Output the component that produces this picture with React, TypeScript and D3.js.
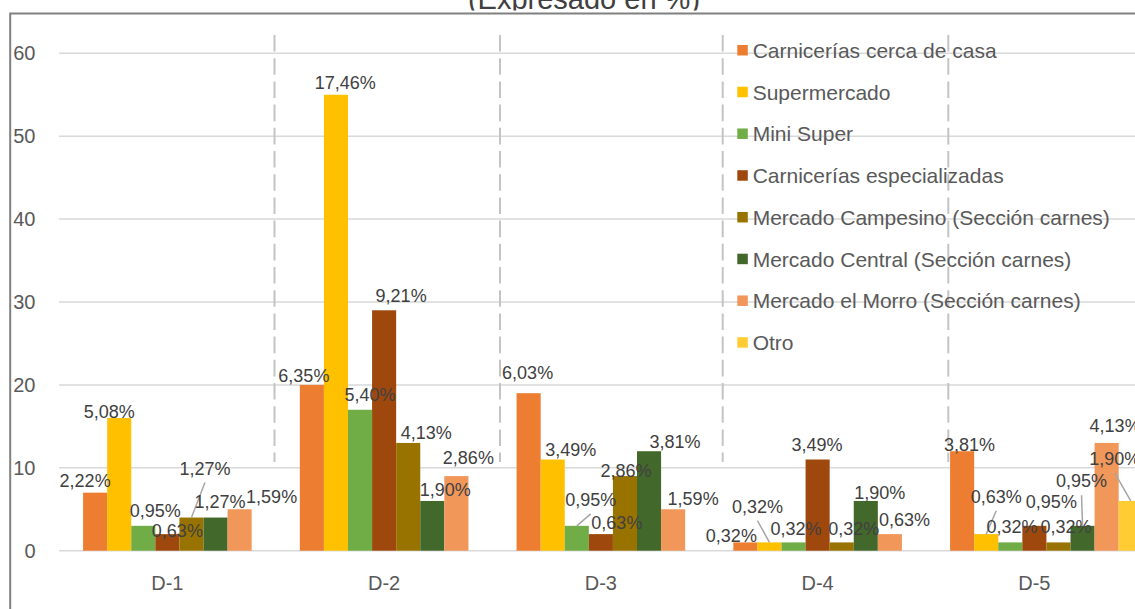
import React from "react";
import * as d3 from "d3";

// Districts and purchase places
const categories = ["D-1", "D-2", "D-3", "D-4", "D-5"];
const seriesNames = [
  "Carnicerías cerca de casa",
  "Supermercado",
  "Mini Super",
  "Carnicerías especializadas",
  "Mercado Campesino (Sección carnes)",
  "Mercado Central (Sección carnes)",
  "Mercado el Morro (Sección carnes)",
  "Otro",
];

// Respondent counts per district (bar heights); labels show share of the total
const carniceriasCerca = [7, 20, 19, 1, 12];
const supermercado = [16, 55, 11, 1, 2];
const miniSuper = [3, 17, 3, 1, 1];
const carniceriasEspecializadas = [2, 29, 2, 11, 3];
const mercadoCampesino = [4, 13, 9, 1, 1];
const mercadoCentral = [4, 6, 12, 6, 3];
const mercadoMorro = [5, 9, 5, 2, 13];
const otro: (number | null)[] = [null, null, null, null, 6];
const totalRespondents = 315;

const yTicks = [0, 10, 20, 30, 40, 50, 60];
const titleText = "(Expresado en %)";

const seriesValues: (number | null)[][] = [
  carniceriasCerca,
  supermercado,
  miniSuper,
  carniceriasEspecializadas,
  mercadoCampesino,
  mercadoCentral,
  mercadoMorro,
  otro,
];

const seriesColors = [
  "#ED7D31",
  "#FFC000",
  "#70AD47",
  "#9E480E",
  "#997300",
  "#43682B",
  "#F1975A",
  "#FFCD33",
];

// Hand-placed data label offsets [dx, dy, leader] relative to the bar's top centre
type Nudge = [number, number, number?] | null;
const labelNudges: Nudge[][] = [
  [[-10, -6], [-8, -2.6], [-1, -14], [-14, -0.7], [7.4, -0.5]],
  [[-10, 0], [9.3, -5.4], [18, -3.5], [-12, -29.7, 1], [10, -31.4, 1]],
  [[12, -9], [10, -9], [14, -20, 1], [2.5, -7.4], [1.7, -9]],
  [[10, 2.6], [17, -8.6], [16, -5], [-0.6, -8.8], [17, -18]],
  [[13.5, -43, 1], [18, -4], [1, 0.6], [12, -7.4], [7.5, -9]],
  [[4.5, -10], [13, -5.3], [26, -3], [14, -2], [-1, -38.5, 1]],
  [[32, -6.5], [12, -12], [20, -4], [14.6, -8.4], [8.5, -11]],
  [null, null, null, null, [-16, -36, 1]],
];

// Decorative dashed separators between districts
const separatorX = [274.5, 500, 722.7, 948.3];

const W = 1135;
const H = 609;
const FONT = "'Liberation Sans', Arial, Helvetica, sans-serif";

const pctFormat = (v: number) =>
  ((v / totalRespondents) * 100).toFixed(2).replace(".", ",") + "%";

export default function App() {
  const plotLeft = 59;
  const step = 216.75;
  const x0 = d3
    .scaleBand<string>()
    .domain(categories)
    .range([plotLeft, plotLeft + step * categories.length])
    .padding(0);
  const x1 = d3
    .scaleBand<string>()
    .domain(seriesNames)
    .range([0, x0.bandwidth()])
    .paddingInner(0)
    .paddingOuter(0.5)
    .align(1);
  const y = d3.scaleLinear().domain([0, 60]).range([550.7, 53.3]);

  const bars: React.ReactNode[] = [];
  const labels: React.ReactNode[] = [];
  seriesNames.forEach((name, si) => {
    seriesValues[si].forEach((v, ci) => {
      if (v === null || v === undefined) return;
      const bx = (x0(categories[ci]) ?? 0) + (x1(name) ?? 0);
      const bw = x1.bandwidth();
      const top = y(v);
      bars.push(
        <rect
          key={`b-${si}-${ci}`}
          x={bx}
          y={top}
          width={bw}
          height={y(0) - top}
          fill={seriesColors[si]}
        />
      );
      const nudge = labelNudges[si][ci];
      if (!nudge) return;
      const cx = bx + bw / 2;
      const lx = cx + nudge[0];
      const ly = top + nudge[1];
      if (nudge[2]) {
        labels.push(
          <line
            key={`l-${si}-${ci}`}
            x1={lx}
            y1={ly + 8}
            x2={cx}
            y2={top}
            stroke="#A6A6A6"
            strokeWidth={1.5}
          />
        );
      }
      labels.push(
        <text
          key={`t-${si}-${ci}`}
          x={lx}
          y={ly}
          textAnchor="middle"
          fontSize={18}
          fill="#404040"
        >
          {pctFormat(v)}
        </text>
      );
    });
  });

  const legendX = 737.3;
  const legendY0 = 50.3;
  const legendStep = 41.74;

  return (
    <svg
      width={W}
      height={H}
      style={{ position: "absolute", left: 0, top: 0, display: "block" }}
      fontFamily={FONT}
    >
      <defs>
        <clipPath id="title-clip">
          <rect x={0} y={0} width={W} height={10.5} />
        </clipPath>
      </defs>
      <rect x={0} y={0} width={W} height={H} fill="#ffffff" />
      <rect
        x={10.2}
        y={13.5}
        width={W + 50}
        height={H + 50}
        fill="none"
        stroke="#808080"
        strokeWidth={2}
      />
      <text
        x={584}
        y={9}
        textAnchor="middle"
        fontSize={29}
        fill="#404040"
        clipPath="url(#title-clip)"
      >
        {titleText}
      </text>

      {/* horizontal gridlines */}
      {yTicks.map((t) => (
        <line
          key={`g-${t}`}
          x1={plotLeft}
          x2={W}
          y1={y(t)}
          y2={y(t)}
          stroke="#D9D9D9"
          strokeWidth={1.5}
        />
      ))}

      {/* dashed separators */}
      {separatorX.map((sx) => (
        <line
          key={`s-${sx}`}
          x1={sx}
          x2={sx}
          y1={35}
          y2={462}
          stroke="#C4C4C4"
          strokeWidth={2}
          strokeDasharray="16.6 6.6"
        />
      ))}

      {bars}
      {labels}

      {/* y axis labels */}
      {yTicks.map((t) => (
        <text
          key={`yt-${t}`}
          x={35.5}
          y={y(t) + 7}
          textAnchor="end"
          fontSize={20}
          fill="#595959"
        >
          {t}
        </text>
      ))}

      {/* category labels */}
      {categories.map((c) => (
        <text
          key={`c-${c}`}
          x={(x0(c) ?? 0) + x0.bandwidth() / 2}
          y={590}
          textAnchor="middle"
          fontSize={20}
          fill="#595959"
        >
          {c}
        </text>
      ))}

      {/* legend */}
      {seriesNames.map((name, i) => {
        const cy = legendY0 + i * legendStep;
        return (
          <g key={`lg-${i}`}>
            <rect
              x={legendX}
              y={cy - 5.3}
              width={10.5}
              height={10.5}
              fill={seriesColors[i]}
            />
            <text x={752.7} y={cy + 7.5} fontSize={21} fill="#595959">
              {name}
            </text>
          </g>
        );
      })}
    </svg>
  );
}
